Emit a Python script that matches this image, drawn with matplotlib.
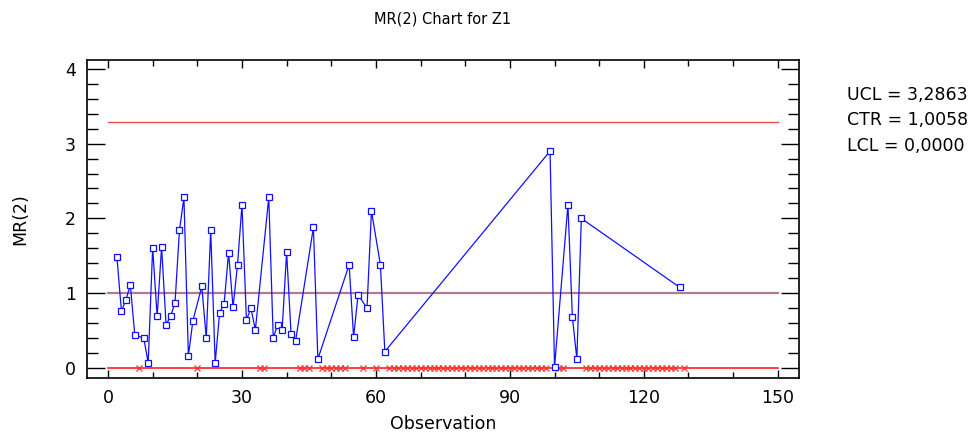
import matplotlib
matplotlib.use('Agg')
import matplotlib.pyplot as plt
from matplotlib.ticker import MultipleLocator

plt.rcParams['font.family'] = ['DejaVu Sans']

# Moving ranges of span 2 (observations with a value)
obs = [2, 3, 4, 5, 6, 8, 9, 10, 11, 12, 13, 14, 15, 16, 17, 18, 19, 21, 22, 23,
       24, 25, 26, 27, 28, 29, 30, 31, 32, 33, 36, 37, 38, 39, 40, 41, 42, 46, 47,
       54, 55, 56, 58, 59, 61, 62, 99, 100, 103, 104, 105, 106, 128]
mr = [1.48, 0.76, 0.91, 1.11, 0.44, 0.40, 0.07, 1.61, 0.69, 1.62, 0.58, 0.69,
      0.87, 1.84, 2.28, 0.16, 0.63, 1.09, 0.40, 1.84, 0.07, 0.74, 0.86, 1.54,
      0.81, 1.38, 2.18, 0.64, 0.80, 0.51, 2.28, 0.40, 0.58, 0.51, 1.55, 0.45,
      0.36, 1.88, 0.12, 1.38, 0.41, 0.98, 0.80, 2.10, 1.38, 0.22, 2.90, 0.01,
      2.18, 0.68, 0.12, 2.00, 1.08]

# Observations with no moving range (excluded)
excluded = ([7, 20, 34, 35, 43, 44, 45, 48, 49, 50, 51, 52, 53, 57, 60]
            + list(range(63, 99)) + [101, 102] + list(range(107, 128)) + [129])

ucl = 3.2863
ctr = 1.0058
lcl = 0.0
x_limits = [0, 150]

fig = plt.figure(figsize=(9.79, 4.37), dpi=100)
ax = fig.add_axes([0.0889, 0.135, 0.727, 0.728])

ax.plot(x_limits, [ucl, ucl], color='#e85050', lw=1.0, zorder=2)
ax.plot(x_limits, [ctr, ctr], color='#b07a96', lw=1.6, zorder=2)
ax.plot(x_limits, [lcl, lcl], color='#ff2020', lw=1.2, zorder=2)

ax.plot(excluded, [0] * len(excluded), linestyle='none', marker='x',
        color='#ff3030', markersize=4, markeredgewidth=0.9, zorder=3)
ax.plot(obs, mr, color='#1010ff', lw=0.9, marker='s', markersize=3.8,
        markerfacecolor='white', markeredgecolor='#1010ff', markeredgewidth=0.9,
        zorder=4)

ax.set_xlim(-4.7, 154.7)
ax.set_ylim(-0.134, 4.12)
ax.xaxis.set_major_locator(MultipleLocator(30))
ax.xaxis.set_minor_locator(MultipleLocator(10))
ax.yaxis.set_major_locator(MultipleLocator(1))
ax.yaxis.set_minor_locator(MultipleLocator(0.2))

ax.tick_params(axis='both', which='both', direction='in', top=True, right=True,
               labelsize=12.5, width=1.0, pad=8)
ax.tick_params(axis='x', which='major', length=6)
ax.tick_params(axis='x', which='minor', length=4)
ax.tick_params(axis='y', which='major', length=13)
ax.tick_params(axis='y', which='minor', length=8)
for s in ax.spines.values():
    s.set_linewidth(1.2)

ax.set_xlabel('Observation', fontsize=12.5, labelpad=6)
ax.set_ylabel('MR(2)', fontsize=12.5, labelpad=26)
ax.set_title('MR(2) Chart for Z1', fontsize=10.5, pad=26)

fig.text(0.865, 0.782, 'UCL = 3,2863', fontsize=12.5, va='center')
fig.text(0.865, 0.725, 'CTR = 1,0058', fontsize=12.5, va='center')
fig.text(0.865, 0.666, 'LCL = 0,0000', fontsize=12.5, va='center')

fig.savefig('out.png', dpi=100)
